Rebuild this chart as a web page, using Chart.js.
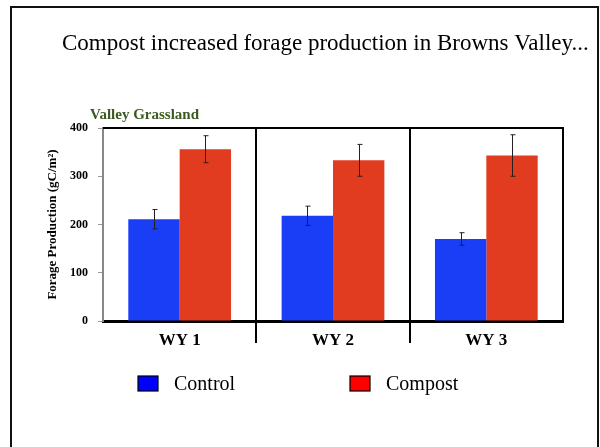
<!DOCTYPE html>
<html>
<head>
<meta charset="utf-8">
<script src="https://cdn.jsdelivr.net/npm/chart.js@4"></script>
<style>
  html, body { margin: 0; padding: 0; background: #fff; }
  #wrap { width: 600px; height: 447px; }
</style>
</head>
<body>
<div id="wrap"><canvas id="chart" width="600" height="447"></canvas></div>
<script>
// values, gC/m2
const years = ["WY 1", "WY 2", "WY 3"];
const control = [211, 218, 170];
const controlErr = [20, 20, 13];
const compost = [356, 333, 343];
const compostErr = [28, 33, 43];
const yTicks = [0, 100, 200, 300, 400];

const slideTitle = "Compost increased forage production in Browns Valley...";
const panelTitle = "Valley Grassland";
const yTitle = "Forage Production (gC/m²)";

const SERIF = "'Liberation Serif', 'Times New Roman', serif";
const errors = [controlErr, compostErr];
const legendColors = ["#0000ff", "#ff0000"];

// frame, titles, panel borders, dividers, error bars and the legend
const decor = {
  id: "decor",
  beforeDraw(chart) {
    const { ctx } = chart;
    ctx.save();
    ctx.fillStyle = "#fff";
    ctx.fillRect(0, 0, chart.width, chart.height);
    ctx.restore();
  },
  afterDatasetsDraw(chart) {
    const { ctx } = chart;
    const y = chart.scales.y;
    ctx.save();
    ctx.strokeStyle = "#222";
    ctx.lineWidth = 1;
    chart.data.datasets.forEach((ds, i) => {
      const meta = chart.getDatasetMeta(i);
      meta.data.forEach((bar, j) => {
        const top = y.getPixelForValue(ds.data[j] + errors[i][j]);
        const bot = y.getPixelForValue(ds.data[j] - errors[i][j]);
        const x = Math.round(bar.x) + 0.5;
        ctx.beginPath();
        ctx.moveTo(x, top); ctx.lineTo(x, bot);
        ctx.moveTo(x - 2, top); ctx.lineTo(x + 3, top);
        ctx.moveTo(x - 2, bot); ctx.lineTo(x + 3, bot);
        ctx.stroke();
      });
    });
    ctx.restore();
  },
  afterDraw(chart) {
    const { ctx, chartArea: a } = chart;
    const xs = chart.scales.x;
    ctx.save();

    // slide frame (open at the bottom)
    ctx.strokeStyle = "#111";
    ctx.lineWidth = 2;
    ctx.beginPath();
    ctx.moveTo(11, chart.height);
    ctx.lineTo(11, 7);
    ctx.lineTo(598, 7);
    ctx.lineTo(598, chart.height);
    ctx.stroke();

    // panel top/right border and year dividers
    ctx.strokeStyle = "#000";
    ctx.lineWidth = 2;
    ctx.beginPath();
    ctx.moveTo(a.left, a.top);
    ctx.lineTo(a.right, a.top);
    ctx.lineTo(a.right, a.bottom);
    for (let i = 0; i < years.length - 1; i++) {
      const xd = Math.round((xs.getPixelForValue(i) + xs.getPixelForValue(i + 1)) / 2);
      ctx.moveTo(xd, a.top);
      ctx.lineTo(xd, a.bottom + 22);
    }
    ctx.stroke();

    // titles
    ctx.fillStyle = "#000";
    ctx.textBaseline = "alphabetic";
    ctx.textAlign = "left";
    ctx.font = "23px " + SERIF;
    ctx.fillText(slideTitle, 62, 50);
    ctx.fillStyle = "#3b5a1f";
    ctx.font = "bold 15px " + SERIF;
    ctx.fillText(panelTitle, 90, 119);

    // legend
    const items = chart.data.datasets.map((ds, i) => ({ label: ds.label, color: legendColors[i] }));
    const lx = [138, 350];
    ctx.font = "20px " + SERIF;
    ctx.textBaseline = "middle";
    items.forEach((it, i) => {
      ctx.fillStyle = it.color;
      ctx.fillRect(lx[i], 376, 20, 15);
      ctx.strokeStyle = "#000";
      ctx.lineWidth = 1.2;
      ctx.strokeRect(lx[i], 376, 20, 15);
      ctx.fillStyle = "#000";
      ctx.fillText(it.label, lx[i] + 36, 385);
    });
    ctx.restore();
  },
};

new Chart(document.getElementById("chart"), {
  type: "bar",
  data: {
    labels: years,
    datasets: [
      { label: "Control", data: control, backgroundColor: "#1a3ef5" },
      { label: "Compost", data: compost, backgroundColor: "#e13b20" },
    ],
  },
  options: {
    responsive: false,
    animation: false,
    events: [],
    layout: { padding: { left: 0, right: 37, top: 128, bottom: 0 } },
    datasets: { bar: { categoryPercentage: 0.67, barPercentage: 1 } },
    plugins: { legend: { display: false }, tooltip: { enabled: false } },
    scales: {
      x: {
        grid: { display: false },
        border: { color: "#000", width: 3 },
        ticks: { color: "#000", font: { family: SERIF, size: 17, weight: "bold" }, padding: 1 },
        afterFit: (s) => { s.height = 126; },
      },
      y: {
        min: 0, max: 400,
        afterBuildTicks: (s) => { s.ticks = yTicks.map((v) => ({ value: v })); },
        grid: { drawOnChartArea: false, tickLength: 5, color: "#999" },
        border: { color: "#888", width: 2 },
        ticks: { color: "#000", font: { family: SERIF, size: 12, weight: "bold" }, padding: 10 },
        title: {
          display: true, text: yTitle, color: "#000",
          font: { family: SERIF, size: 13, weight: "bold" },
          padding: { top: 45, bottom: 0 },
        },
        afterFit: (s) => { s.width = 103; },
      },
    },
  },
  plugins: [decor],
});
</script>
</body>
</html>
